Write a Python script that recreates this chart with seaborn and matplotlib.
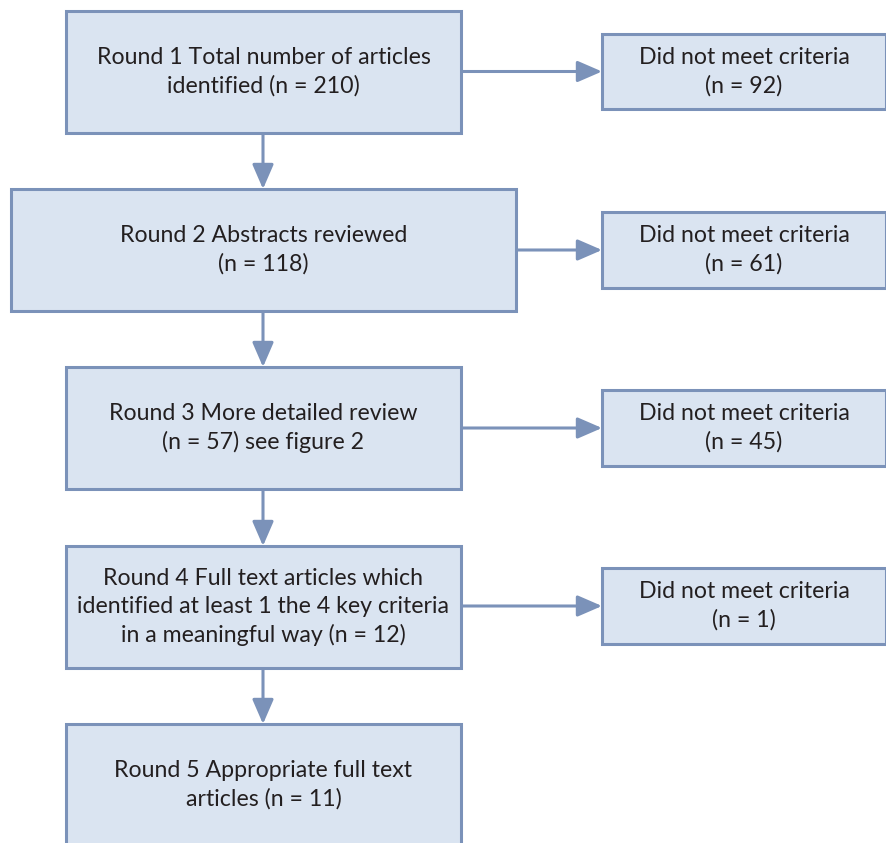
import matplotlib
matplotlib.use("Agg")
import matplotlib.pyplot as plt
from matplotlib.patches import Rectangle, FancyArrowPatch
import seaborn as sns

# ---- data ----
main_texts = [
    "Round 1 Total number of articles\nidentified (n = {n})",
    "Round 2 Abstracts reviewed\n(n = {n})",
    "Round 3 More detailed review\n(n = {n}) see figure 2",
    "Round 4 Full text articles which\nidentified at least 1 the 4 key criteria\nin a meaningful way (n = {n})",
    "Round 5 Appropriate full text\narticles (n = {n})",
]
main_counts = [210, 118, 57, 12, 11]
excluded_label = "Did not meet criteria\n(n = {n})"
excluded_counts = [92, 61, 45, 1]

# ---- layout (pixels) ----
W, H = 887, 843
main_boxes = [(66, 461, 11, 133), (11, 516, 189, 311), (66, 461, 367, 489),
              (66, 461, 546, 668), (66, 461, 724, 860)]
side_boxes = [(602, 886, 34, 109), (602, 886, 212, 288), (602, 886, 390, 466),
              (602, 886, 568, 644)]
fill = "#dae4f1"
edge = "#7b92b9"
txt = "#231f20"

sns.set_theme(style="white")
plt.rcParams['font.family'] = ['Lato', 'DejaVu Sans']

fig = plt.figure(figsize=(W / 100, H / 100), dpi=100)
ax = fig.add_axes([0, 0, 1, 1])
ax.set_xlim(0, W)
ax.set_ylim(H, 0)
ax.axis("off")

def box(b, label):
    x0, x1, y0, y1 = b
    ax.add_patch(Rectangle((x0, y0), x1 - x0, y1 - y0, facecolor=fill,
                           edgecolor=edge, linewidth=2.2, zorder=2))
    yc = (y0 + y1) / 2 if y1 <= H else y0 + 61
    ax.text((x0 + x1) / 2, yc, label, ha="center", va="center", fontsize=16.7,
            color=txt, linespacing=1.42, zorder=3)

for b, t, n in zip(main_boxes, main_texts, main_counts):
    box(b, t.format(n=n))
for b, n in zip(side_boxes, excluded_counts):
    box(b, excluded_label.format(n=n))

def arrow(p0, p1):
    ax.add_patch(FancyArrowPatch(p0, p1, arrowstyle="-|>,head_length=15,head_width=6.5",
                                 mutation_scale=1, color=edge, linewidth=2.2,
                                 shrinkA=0, shrinkB=0, zorder=1))

xc = 263
for a, b in zip(main_boxes[:-1], main_boxes[1:]):
    arrow((xc, a[3]), (xc, b[2]))
for m, s in zip(main_boxes, side_boxes):
    yc = (s[2] + s[3]) / 2
    arrow((m[1], yc), (s[0], yc))

fig.savefig("out.png", dpi=100, facecolor="white")
